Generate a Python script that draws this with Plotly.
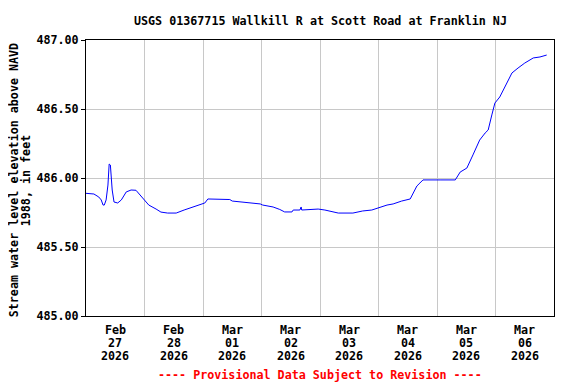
import plotly.graph_objects as go

times = [
    "2026-02-27 00:00", "2026-02-27 03:15", "2026-02-27 05:15", "2026-02-27 06:15",
    "2026-02-27 07:00", "2026-02-27 07:30", "2026-02-27 08:15", "2026-02-27 09:00",
    "2026-02-27 09:30", "2026-02-27 10:00", "2026-02-27 10:45", "2026-02-27 11:30",
    "2026-02-27 13:00", "2026-02-27 14:30", "2026-02-27 16:30", "2026-02-27 18:30",
    "2026-02-27 20:30", "2026-02-27 21:45", "2026-02-27 23:45", "2026-02-28 01:45",
    "2026-02-28 04:45", "2026-02-28 06:45", "2026-02-28 09:30", "2026-02-28 13:00",
    "2026-02-28 16:15", "2026-02-28 20:00", "2026-02-28 22:30", "2026-03-01 00:45",
    "2026-03-01 02:00", "2026-03-01 07:00", "2026-03-01 11:00", "2026-03-01 12:00",
    "2026-03-01 16:00", "2026-03-01 19:15", "2026-03-01 23:30", "2026-03-02 00:30",
    "2026-03-02 04:45", "2026-03-02 07:30", "2026-03-02 09:30", "2026-03-02 12:30",
    "2026-03-02 13:00", "2026-03-02 15:45", "2026-03-02 16:15", "2026-03-02 16:30",
    "2026-03-02 23:15", "2026-03-03 02:00", "2026-03-03 05:00", "2026-03-03 07:30",
    "2026-03-03 13:30", "2026-03-03 15:15", "2026-03-03 17:30", "2026-03-03 21:15",
    "2026-03-03 23:45", "2026-03-04 03:30", "2026-03-04 06:00", "2026-03-04 09:30",
    "2026-03-04 13:00", "2026-03-04 14:15", "2026-03-04 15:45", "2026-03-04 17:00",
    "2026-03-04 18:15", "2026-03-05 01:15", "2026-03-05 07:30", "2026-03-05 09:30",
    "2026-03-05 12:15", "2026-03-05 14:45", "2026-03-05 17:30", "2026-03-05 19:45",
    "2026-03-05 21:00", "2026-03-05 22:30", "2026-03-05 23:45", "2026-03-06 01:45",
    "2026-03-06 04:45", "2026-03-06 06:45", "2026-03-06 09:15", "2026-03-06 12:00",
    "2026-03-06 15:30", "2026-03-06 18:15", "2026-03-06 21:00",
]
levels = [
    485.889, 485.884, 485.862, 485.841,
    485.804, 485.804, 485.841, 485.949,
    486.101, 486.094, 485.913, 485.826,
    485.819, 485.841, 485.899, 485.913,
    485.911, 485.884, 485.841, 485.804,
    485.775, 485.753, 485.746, 485.746,
    485.768, 485.790, 485.804, 485.819,
    485.848, 485.848, 485.844, 485.833,
    485.826, 485.819, 485.812, 485.804,
    485.790, 485.772, 485.754, 485.754,
    485.768, 485.768, 485.790, 485.768,
    485.775, 485.768, 485.754, 485.746,
    485.746, 485.754, 485.761, 485.768,
    485.783, 485.804, 485.812, 485.833,
    485.848, 485.891, 485.942, 485.964,
    485.986, 485.986, 485.986, 486.043,
    486.072, 486.167, 486.275, 486.326,
    486.348, 486.457, 486.543, 486.587,
    486.688, 486.761, 486.797, 486.833,
    486.870, 486.877, 486.891,
]

day_noons = ["2026-02-27 12:00", "2026-02-28 12:00", "2026-03-01 12:00", "2026-03-02 12:00",
             "2026-03-03 12:00", "2026-03-04 12:00", "2026-03-05 12:00", "2026-03-06 12:00"]
label_month = ["Feb", "Feb", "Mar", "Mar", "Mar", "Mar", "Mar", "Mar"]
label_day = ["27", "28", "01", "02", "03", "04", "05", "06"]
label_year = ["2026"] * 8
midnights = ["2026-02-28", "2026-03-01", "2026-03-02", "2026-03-03",
             "2026-03-04", "2026-03-05", "2026-03-06"]
y_ticks = [485.0, 485.5, 486.0, 486.5, 487.0]

title = "USGS 01367715 Wallkill R at Scott Road at Franklin NJ"
ytitle_1 = "Stream water level elevation above NAVD"
ytitle_2 = "1988, in feet"
footer = "---- Provisional Data Subject to Revision ----"

FONT = "DejaVu Sans Mono"
TF = dict(family=FONT, size=11.7, color="black", weight="bold")

fig = go.Figure()
fig.add_trace(go.Scatter(x=times, y=levels, mode="lines",
                         line=dict(color="#0000ff", width=1), showlegend=False))

annots = [
    dict(text=title, xref="paper", yref="paper", x=0.5, y=1.068,
         xanchor="center", yanchor="middle", showarrow=False, font=TF),
    dict(text=footer, xref="paper", yref="paper", x=0.5, y=-0.2138,
         xanchor="center", yanchor="middle", showarrow=False,
         font=dict(family=FONT, size=11.7, color="red", weight="bold")),
    dict(text=ytitle_1, xref="paper", yref="paper", x=-0.1549, y=0.49,
         xanchor="center", yanchor="middle", showarrow=False, textangle=-90,
         font=TF),
    dict(text=ytitle_2, xref="paper", yref="paper", x=-0.1293, y=0.49,
         xanchor="center", yanchor="middle", showarrow=False, textangle=-90,
         font=TF),
]
for rows, ypos in ((label_month, -0.0507), (label_day, -0.0978), (label_year, -0.1449)):
    for xv, txt in zip(day_noons, rows):
        annots.append(dict(text=txt, xref="x", yref="paper", x=xv, y=ypos,
                           xanchor="center", yanchor="middle", showarrow=False, font=TF))

# page body has an 8px default margin; figure sized to fill the rest of the window
fig.update_layout(
    width=568, height=376,
    margin=dict(l=78, r=22, t=32, b=68, autoexpand=False),
    paper_bgcolor="white", plot_bgcolor="white",
    font=dict(family=FONT, size=12, color="black", weight="bold"),
    annotations=annots,
)
fig.update_xaxes(
    type="date", range=["2026-02-27 00:00", "2026-03-07 00:00"],
    showticklabels=False, ticks="", automargin=False,
    showgrid=False, showline=True, linecolor="black", linewidth=1, mirror=True,
    minor=dict(tickmode="array", tickvals=midnights, showgrid=True,
               gridcolor="#c8c8c8", gridwidth=1, ticks=""),
    zeroline=False,
)
fig.update_yaxes(
    range=[485.0, 487.0], tickmode="array", tickvals=y_ticks, tickformat=".2f",
    ticks="outside", ticklen=4, tickcolor="black", automargin=False,
    showgrid=True, gridcolor="#c8c8c8", gridwidth=1,
    showline=True, linecolor="black", linewidth=1, mirror=True, zeroline=False,
    tickfont=TF,
)

fig.write_html("out.html")
